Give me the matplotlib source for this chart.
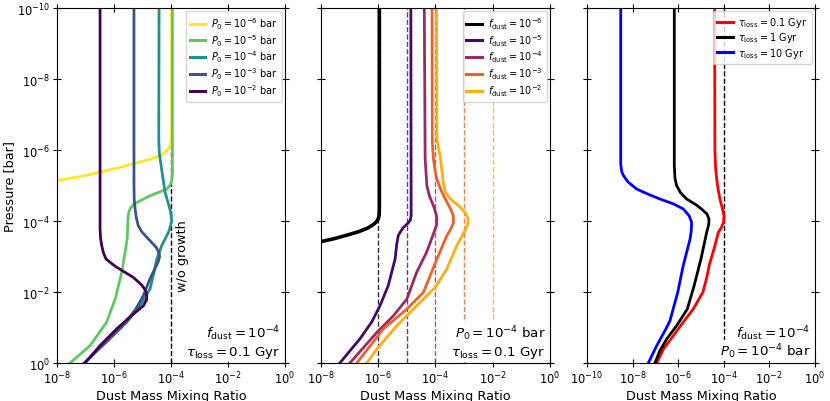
import numpy as np
import matplotlib
matplotlib.use('Agg')
from matplotlib import pyplot as plt

# all values are log10 of pressure [bar] and log10 of dust mass mixing ratio

# --- left panel: different P0 (f_dust = 1e-4, tau_loss = 0.1 Gyr)
p0Labels = [r'$P_0 = 10^{-6}$ bar', r'$P_0 = 10^{-5}$ bar', r'$P_0 = 10^{-4}$ bar',
            r'$P_0 = 10^{-3}$ bar', r'$P_0 = 10^{-2}$ bar']
p0_6_logP = [-10, -6.6, -6.3, -6.15, -6.03, -5.93, -5.84, -5.75, -5.61, -5.5, -5.37, -5.25, -5.14]
p0_6_logX = [-3.98, -3.98, -4.0, -4.03, -4.1, -4.2, -4.39, -4.7, -5.33, -5.85, -6.49, -7.2, -8.0]
p0_5_logP = [-10, -5.3, -5.2, -5.1, -5.0, -4.9, -4.71, -4.48, -4.35, -4.22, -4.06, -3.49, -2.93, -2.55, -1.80, -1.15, -0.49, 0]
p0_5_logX = [-3.95, -3.95, -3.96, -3.99, -4.04, -4.15, -4.74, -5.30, -5.43, -5.49, -5.51, -5.54, -5.65, -5.73, -5.96, -6.26, -6.84, -7.54]
p0_4_logP = [-10, -6.3, -5.9, -5.46, -4.81, -4.34, -4.15, -4.0, -3.85, -3.68, -3.30, -2.93, -2.55, -2.08, -1.6, -1.15, -0.49, 0]
p0_4_logX = [-4.42, -4.43, -4.41, -4.33, -4.21, -4.04, -3.99, -3.98, -4.02, -4.09, -4.33, -4.50, -4.6, -4.74, -5.1, -5.55, -6.45, -7.02]
p0_3_logP = [-10, -5.0, -4.6, -4.34, -4.1, -3.87, -3.7, -3.54, -3.26, -3.1, -3.0, -2.85, -2.37, -1.90, -1.5, -1.0, -0.49, 0]
p0_3_logX = [-5.30, -5.30, -5.29, -5.26, -5.22, -5.15, -5.03, -4.85, -4.52, -4.42, -4.40, -4.45, -4.74, -4.97, -5.25, -5.75, -6.4, -7.05]
p0_2_logP = [-10, -3.77, -3.5, -3.30, -3.1, -2.93, -2.80, -2.70, -2.41, -2.2, -2.05, -1.90, -1.78, -1.61, -1.38, -0.96, -0.49, 0]
p0_2_logX = [-6.49, -6.49, -6.47, -6.43, -6.37, -6.28, -6.08, -5.91, -5.32, -5.03, -4.90, -4.85, -4.86, -4.97, -5.32, -5.91, -6.49, -7.02]

# --- middle panel: different f_dust (P0 = 1e-4 bar, tau_loss = 0.1 Gyr)
fLabels = [r'$f_{\rm dust} = 10^{-6}$', r'$f_{\rm dust} = 10^{-5}$', r'$f_{\rm dust} = 10^{-4}$',
           r'$f_{\rm dust} = 10^{-3}$', r'$f_{\rm dust} = 10^{-2}$']
fValues = [-6, -5, -4, -3, -2]
f6_logP = [-10, -4.34, -4.15, -4.06, -3.98, -3.9, -3.8, -3.7, -3.6, -3.5, -3.42]
f6_logX = [-5.96, -5.96, -5.97, -6.0, -6.06, -6.17, -6.37, -6.68, -7.1, -7.55, -8.0]
f5_logP = [-10, -4.3, -4.15, -4.02, -3.92, -3.82, -3.7, -3.59, -3.3, -2.93, -2.18, -1.61, -1.15, -0.68, 0]
f5_logX = [-4.86, -4.85, -4.85, -4.88, -4.98, -5.12, -5.22, -5.30, -5.36, -5.41, -5.65, -5.94, -6.23, -6.64, -7.34]
f4_logP = [-10, -5.75, -5.0, -4.7, -4.43, -4.2, -4.06, -3.9, -3.77, -3.12, -2.55, -1.80, -1.33, -0.86, 0]
f4_logX = [-4.39, -4.36, -4.30, -4.21, -4.07, -3.98, -3.95, -3.96, -4.01, -4.31, -4.66, -5.0, -5.47, -6.05, -6.99]
f3_logP = [-10, -6.2, -5.75, -5.4, -5.18, -4.85, -4.53, -4.3, -4.15, -3.96, -3.8, -3.59, -2.93, -1.99, -1.52, -0.96, 0]
f3_logX = [-4.12, -4.11, -4.07, -4.01, -3.95, -3.8, -3.60, -3.45, -3.38, -3.37, -3.45, -3.60, -3.95, -4.42, -5.0, -5.82, -6.75]
f2_logP = [-10, -6.3, -5.75, -5.3, -5.09, -4.81, -4.6, -4.4, -4.2, -4.06, -3.9, -3.73, -3.30, -2.65, -2.13, -1.61, -1.05, -0.39, 0]
f2_logX = [-3.96, -3.95, -3.82, -3.76, -3.73, -3.66, -3.45, -3.15, -2.93, -2.86, -2.88, -2.97, -3.26, -3.60, -4.01, -4.66, -5.35, -6.05, -6.40]

# --- right panel: different tau_loss (f_dust = 1e-4, P0 = 1e-4 bar)
tauLabels = [r'$\tau_{\rm loss} = 0.1$ Gyr', r'$\tau_{\rm loss} = 1$ Gyr', r'$\tau_{\rm loss} = 10$ Gyr']
tau01_logP = [-10, -6.0, -5.5, -5.18, -4.9, -4.62, -4.35, -4.15, -3.96, -3.8, -3.68, -3.30, -2.8, -2.4, -1.99, -1.52, -1.15, -0.77, -0.39, 0]
tau01_logX = [-4.40, -4.39, -4.36, -4.31, -4.25, -4.17, -4.06, -3.99, -4.01, -4.12, -4.24, -4.39, -4.62, -4.75, -4.92, -5.34, -5.78, -6.21, -6.65, -6.94]
tau1_logP = [-10, -5.56, -5.2, -5.0, -4.8, -4.62, -4.45, -4.34, -4.2, -4.06, -3.9, -3.68, -2.93, -2.18, -1.52, -1.05, -0.68, -0.35, 0]
tau1_logX = [-6.17, -6.17, -6.14, -6.07, -5.9, -5.63, -5.2, -4.98, -4.74, -4.65, -4.66, -4.75, -5.0, -5.3, -5.6, -6.07, -6.50, -6.80, -7.02]
tau10_logP = [-10, -5.6, -5.4, -5.28, -5.1, -4.90, -4.75, -4.62, -4.48, -4.34, -4.15, -3.96, -3.7, -3.49, -2.74, -1.99, -1.19, -0.91, -0.49, 0]
tau10_logX = [-8.52, -8.52, -8.48, -8.40, -8.20, -7.82, -7.3, -6.80, -6.2, -5.78, -5.52, -5.41, -5.43, -5.48, -5.78, -6.02, -6.36, -6.58, -6.94, -7.31]

TICK_SIZE = 8.3
LABEL_SIZE = 9.3
LEGEND_SIZE = 7.0
NOTE_SIZE = 9.6


def setup_axis(ax, xmin, show_ylabels):
    ax.set_xscale('log')
    ax.set_yscale('log')
    ax.set_xlim(10.0 ** xmin, 1)
    ax.set_ylim(1, 1e-10)
    ax.set_xticks(10.0 ** np.arange(xmin, 1, 2))
    ax.set_yticks(10.0 ** np.arange(-10, 1, 2))
    ax.minorticks_off()
    ax.tick_params(direction='inout', length=6, pad=2, top=True, right=True, labelsize=TICK_SIZE)
    if not show_ylabels:
        ax.set_yticklabels([])
    ax.set_xlabel('Dust Mass Mixing Ratio', fontsize=LABEL_SIZE, labelpad=2)


def note(ax, y, s):
    ax.text(0.98, y, s, transform=ax.transAxes, ha='right', va='baseline', fontsize=NOTE_SIZE,
            bbox=dict(facecolor='white', edgecolor='none', pad=1.0))


def add_legend(ax):
    leg = ax.legend(loc='upper right', fontsize=LEGEND_SIZE, labelspacing=0.12, handlelength=1.6,
                    borderaxespad=0.35, handletextpad=0.6)
    for line in leg.get_lines():
        line.set_linewidth(2.2)


fig = plt.figure(figsize=(8.3, 4.02), dpi=100)
ax1 = fig.add_axes([0.0687, 0.0945, 0.2747, 0.8831])
ax2 = fig.add_axes([0.3867, 0.0945, 0.2759, 0.8831])
ax3 = fig.add_axes([0.7072, 0.0945, 0.2747, 0.8831])

# left
viridis = plt.get_cmap('viridis')
p0Colors = [viridis(1.0), viridis(0.75), viridis(0.5), viridis(0.25), viridis(0.0)]
p0Curves = [(p0_6_logP, p0_6_logX), (p0_5_logP, p0_5_logX), (p0_4_logP, p0_4_logX),
            (p0_3_logP, p0_3_logX), (p0_2_logP, p0_2_logX)]
ax1.axvline(1e-4, color='k', linestyle='--', linewidth=1)
for (logP, logX), c, lab in zip(p0Curves, p0Colors, p0Labels):
    ax1.plot(10.0 ** np.array(logX), 10.0 ** np.array(logP), color=c, linewidth=2, label=lab)
setup_axis(ax1, -8, True)
ax1.set_ylabel('Pressure [bar]', fontsize=LABEL_SIZE, labelpad=1)
add_legend(ax1)
ax1.text(1.45e-4, 9e-4, 'w/o growth', rotation=90, ha='left', va='center', fontsize=LABEL_SIZE)
note(ax1, 0.073, r'$f_{\rm dust} = 10^{-4}$')
note(ax1, 0.022, r'$\tau_{\rm loss} = 0.1$ Gyr')

# middle
inferno = plt.get_cmap('inferno')
fColors = [inferno(v) for v in [0.0, 0.2, 0.42, 0.65, 0.82]]
fWidths = [2.6, 2, 2, 2, 2]
fCurves = [(f6_logP, f6_logX), (f5_logP, f5_logX), (f4_logP, f4_logX),
           (f3_logP, f3_logX), (f2_logP, f2_logX)]
for fv, c in zip(fValues, fColors):
    ax2.axvline(10.0 ** fv, color=c, linestyle='--', linewidth=1, alpha=0.8)
for (logP, logX), c, w, lab in zip(fCurves, fColors, fWidths, fLabels):
    ax2.plot(10.0 ** np.array(logX), 10.0 ** np.array(logP), color=c, linewidth=w, label=lab)
setup_axis(ax2, -8, False)
add_legend(ax2)
note(ax2, 0.073, r'$P_0 = 10^{-4}$ bar')
note(ax2, 0.022, r'$\tau_{\rm loss} = 0.1$ Gyr')

# right
tauColors = ['red', 'black', 'blue']
tauCurves = [(tau01_logP, tau01_logX), (tau1_logP, tau1_logX), (tau10_logP, tau10_logX)]
ax3.axvline(1e-4, color='k', linestyle='--', linewidth=1)
for (logP, logX), c, lab in zip(tauCurves, tauColors, tauLabels):
    ax3.plot(10.0 ** np.array(logX), 10.0 ** np.array(logP), color=c, linewidth=2, label=lab)
setup_axis(ax3, -10, False)
add_legend(ax3)
note(ax3, 0.073, r'$f_{\rm dust} = 10^{-4}$')
note(ax3, 0.022, r'$P_0 = 10^{-4}$ bar')

fig.savefig('out.png', dpi=100)
